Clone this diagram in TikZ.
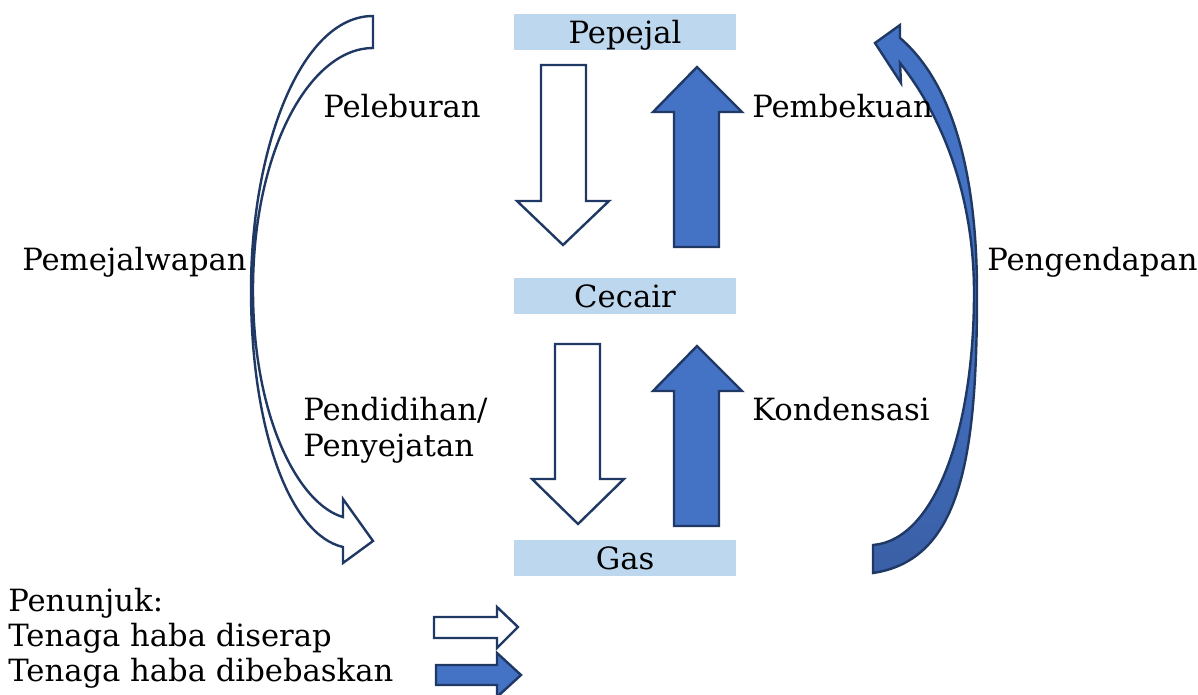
\documentclass[tikz,border=0pt]{standalone}
\usepackage{fontspec}
\setmainfont{DejaVu Serif}
\definecolor{navy}{HTML}{1F3864}
\definecolor{arrowblue}{HTML}{4472C4}
\definecolor{arrowdark}{HTML}{3A5FA6}
\definecolor{boxblue}{HTML}{BDD7EE}
\tikzset{
  statebox/.style={fill=boxblue, draw=none, minimum width=166.5pt, minimum height=27pt, inner sep=0pt},
  lbl/.style={font=\fontsize{23}{27}\selectfont, inner sep=0pt},
  hollowarrow/.style={draw=navy, line width=1.8pt, fill=white, line join=miter},
  solidarrow/.style={draw=navy, line width=1.8pt, fill=arrowblue, line join=miter},
}
\begin{document}
\begin{tikzpicture}[x=0.75pt,y=-0.75pt]
\useasboundingbox (0,0) rectangle (1198,695);
\clip (0,0) rectangle (1198,695);

% state boxes
\node[statebox] (pepejal) at (625,32) {};
\node[statebox] (cecair) at (625,295.5) {};
\node[statebox] (gas) at (625,558) {};
\node[lbl, anchor=base] (tpepejal) at (625,44) {Pepejal};
\node[lbl, anchor=base] (tcecair) at (625,307) {Cecair};
\node[lbl, anchor=base] (tgas) at (625,569) {Gas};

% straight block arrows
\draw[hollowarrow] (541,65) -- (586,65) -- (586,201) -- (609,201) -- (563,245) -- (517,201) -- (541,201) -- cycle;
\draw[solidarrow] (674,247) -- (719,247) -- (719,112) -- (742,112) -- (697,67) -- (653,112) -- (674,112) -- cycle;
\draw[hollowarrow] (555,344) -- (600,344) -- (600,479) -- (624,479) -- (578,524) -- (532,479) -- (555,479) -- cycle;
\draw[solidarrow] (674,526) -- (719,526) -- (719,391) -- (742,391) -- (697,346) -- (653,391) -- (674,391) -- cycle;

% left curved hollow arrow (Pemejalwapan)
\draw[hollowarrow] (373,16) .. controls (300,16) and (251,150) .. (251,290)
  .. controls (251,430) and (290,535) .. (343,547) -- (343,563) -- (373,541) -- (343,499) -- (343,517)
  .. controls (300,505) and (253,420) .. (253,290)
  .. controls (253,150) and (310,48) .. (373,48) -- cycle;

% right curved solid arrow (Pengendapan)
\draw[draw=navy, line width=1.8pt, line join=miter, top color=arrowblue, bottom color=arrowdark, middle color=arrowblue]
  (873,573) -- (873,545) .. controls (935,540) and (974,430) .. (974,293)
  .. controls (974,200) and (945,120) .. (900,63) -- (901,83) -- (875,43) -- (900,25) -- (900,38)
  .. controls (955,85) and (977,180) .. (977,293)
  .. controls (977,460) and (960,560) .. (873,573) -- cycle;

% process labels
\node[lbl, anchor=base west] (peleburan) at (323,118) {Peleburan};
\node[lbl, anchor=base west] (pembekuan) at (752,118) {Pembekuan};
\node[lbl, anchor=base west] (pemejalwapan) at (22,270) {Pemejalwapan};
\node[lbl, anchor=base west] (pengendapan) at (987,270) {Pengendapan};
\node[lbl, anchor=base west] (pendidihan) at (303,420) {Pendidihan/};
\node[lbl, anchor=base west] (penyejatan) at (303,456) {Penyejatan};
\node[lbl, anchor=base west] (kondensasi) at (752,420) {Kondensasi};

% legend
\node[lbl, anchor=base west] (penunjuk) at (8,611) {Penunjuk:};
\node[lbl, anchor=base west] (diserap) at (8,646) {Tenaga haba diserap};
\node[lbl, anchor=base west] (dibebaskan) at (8,681) {Tenaga haba dibebaskan};
\draw[hollowarrow] (434,617) -- (497,617) -- (497,607) -- (518,627) -- (497,648) -- (497,638) -- (434,638) -- cycle;
\draw[solidarrow] (436,665) -- (497,665) -- (497,653) -- (521,675) -- (497,697) -- (497,685) -- (436,685) -- cycle;
\end{tikzpicture}
\end{document}
